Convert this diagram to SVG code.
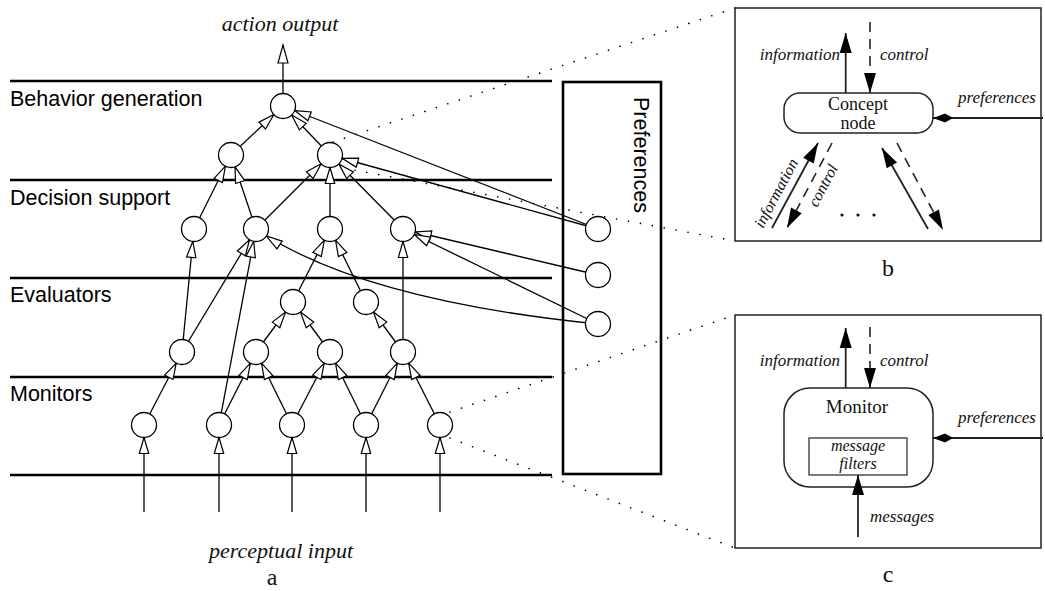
<svg xmlns="http://www.w3.org/2000/svg" width="1045" height="591" viewBox="0 0 1045 591">
<style>
.layer{stroke:#000;stroke-width:2.6;fill:none}
.edge{stroke:#000;stroke-width:1.3;fill:none}
.node{fill:#fff;stroke:#000;stroke-width:1.3}
.dot{stroke:#000;stroke-width:1.6;fill:none;stroke-dasharray:0.1 12;stroke-linecap:round}
.lbl{font-family:"Liberation Sans",Arial,sans-serif;font-size:21.5px;fill:#000}
.it{font-family:"Liberation Serif","Times New Roman",serif;font-style:italic;fill:#111}
.rm{font-family:"Liberation Serif","Times New Roman",serif;fill:#111}
.pan{fill:#fff;stroke:#222;stroke-width:1.5}
.sol{stroke:#222;stroke-width:1.8;fill:none}
.dsh{stroke:#222;stroke-width:1.6;fill:none;stroke-dasharray:10 7}
</style>
<defs>
<marker id="h" markerUnits="userSpaceOnUse" markerWidth="40" markerHeight="20" refX="28.5" refY="5" orient="auto" overflow="visible">
<path d="M0,0.3 L16,5 L0,9.7 z" fill="#fff" stroke="#000" stroke-width="1.2"/>
</marker>
<marker id="ht" markerUnits="userSpaceOnUse" markerWidth="20" markerHeight="20" refX="18" refY="5" orient="auto" overflow="visible">
<path d="M0,0 L18,5 L0,10 z" fill="#fff" stroke="#000" stroke-width="1.2"/>
</marker>
<marker id="f" markerUnits="userSpaceOnUse" markerWidth="24" markerHeight="16" refX="20" refY="6" orient="auto" overflow="visible">
<path d="M0,0 L20,6 L0,12 z" fill="#000"/>
</marker>
<marker id="dm" markerUnits="userSpaceOnUse" markerWidth="24" markerHeight="16" refX="20" refY="5" orient="auto" overflow="visible">
<path d="M20,5 L8,0.5 L0,5 L8,9.5 z" fill="#000"/>
</marker>
</defs>
<rect width="1045" height="591" fill="#fff"/>

<g id="layers">
<line class="layer" x1="10" y1="81" x2="552" y2="81"/>
<line class="layer" x1="10" y1="180" x2="552" y2="180"/>
<line class="layer" x1="10" y1="278" x2="552" y2="278"/>
<line class="layer" x1="10" y1="377" x2="552" y2="377"/>
<line class="layer" x1="10" y1="475" x2="552" y2="475"/>
<text class="lbl" x="10" y="106">Behavior generation</text>
<text class="lbl" x="10" y="205">Decision support</text>
<text class="lbl" x="10" y="302">Evaluators</text>
<text class="lbl" x="10" y="401">Monitors</text>
</g>

<g id="preferences-box">
<rect x="563" y="82" width="98" height="392" fill="none" stroke="#000" stroke-width="2.6"/>
<text class="lbl" transform="translate(634,97) rotate(90)">Preferences</text>
</g>

<g id="zoom-lines">
<line class="dot" x1="333" y1="142" x2="735" y2="8"/>
<line class="dot" x1="343" y1="168" x2="735" y2="241"/>
<line class="dot" x1="450" y1="412" x2="735" y2="315"/>
<line class="dot" x1="450" y1="438" x2="735" y2="548"/>
</g>

<g id="connectors">
<line class="edge" x1="283" y1="106" x2="283" y2="45" marker-end="url(#ht)"/>
<line class="edge" x1="231" y1="155" x2="283" y2="106" marker-end="url(#h)"/>
<line class="edge" x1="330" y1="155" x2="283" y2="106" marker-end="url(#h)"/>
<line class="edge" x1="598" y1="229" x2="283" y2="106" marker-end="url(#h)"/>
<line class="edge" x1="194" y1="229" x2="231" y2="155" marker-end="url(#h)"/>
<line class="edge" x1="256" y1="229" x2="231" y2="155" marker-end="url(#h)"/>
<line class="edge" x1="256" y1="229" x2="330" y2="155" marker-end="url(#h)"/>
<line class="edge" x1="330" y1="229" x2="330" y2="155" marker-end="url(#h)"/>
<line class="edge" x1="403" y1="229" x2="330" y2="155" marker-end="url(#h)"/>
<line class="edge" x1="598" y1="229" x2="330" y2="155" marker-end="url(#h)"/>
<line class="edge" x1="182" y1="352" x2="194" y2="229" marker-end="url(#h)"/>
<line class="edge" x1="182" y1="352" x2="256" y2="229" marker-end="url(#h)"/>
<line class="edge" x1="219" y1="425" x2="256" y2="229" marker-end="url(#h)"/>
<path class="edge" d="M598,324 Q360,300 256,229" marker-end="url(#h)"/>
<line class="edge" x1="293" y1="302" x2="330" y2="229" marker-end="url(#h)"/>
<line class="edge" x1="366" y1="302" x2="330" y2="229" marker-end="url(#h)"/>
<line class="edge" x1="403" y1="352" x2="403" y2="229" marker-end="url(#h)"/>
<line class="edge" x1="598" y1="275" x2="403" y2="229" marker-end="url(#h)"/>
<line class="edge" x1="598" y1="324" x2="403" y2="229" marker-end="url(#h)"/>
<line class="edge" x1="256" y1="352" x2="293" y2="302" marker-end="url(#h)"/>
<line class="edge" x1="330" y1="352" x2="293" y2="302" marker-end="url(#h)"/>
<line class="edge" x1="403" y1="352" x2="366" y2="302" marker-end="url(#h)"/>
<line class="edge" x1="144" y1="425" x2="182" y2="352" marker-end="url(#h)"/>
<line class="edge" x1="219" y1="425" x2="256" y2="352" marker-end="url(#h)"/>
<line class="edge" x1="292" y1="425" x2="256" y2="352" marker-end="url(#h)"/>
<line class="edge" x1="292" y1="425" x2="330" y2="352" marker-end="url(#h)"/>
<line class="edge" x1="366" y1="425" x2="330" y2="352" marker-end="url(#h)"/>
<line class="edge" x1="366" y1="425" x2="403" y2="352" marker-end="url(#h)"/>
<line class="edge" x1="440" y1="425" x2="403" y2="352" marker-end="url(#h)"/>
<line class="edge" x1="144" y1="512" x2="144" y2="425" marker-end="url(#h)"/>
<line class="edge" x1="219" y1="512" x2="219" y2="425" marker-end="url(#h)"/>
<line class="edge" x1="292" y1="512" x2="292" y2="425" marker-end="url(#h)"/>
<line class="edge" x1="366" y1="512" x2="366" y2="425" marker-end="url(#h)"/>
<line class="edge" x1="440" y1="512" x2="440" y2="425" marker-end="url(#h)"/>
</g>

<g id="nodes">
<circle id="B1" class="node" cx="283" cy="106" r="12.5"/>
<circle id="D1" class="node" cx="231" cy="155" r="12.5"/>
<circle id="D2" class="node" cx="330" cy="155" r="12.5"/>
<circle id="D3" class="node" cx="194" cy="229" r="12.5"/>
<circle id="D4" class="node" cx="256" cy="229" r="12.5"/>
<circle id="D5" class="node" cx="330" cy="229" r="12.5"/>
<circle id="D6" class="node" cx="403" cy="229" r="12.5"/>
<circle id="E1" class="node" cx="293" cy="302" r="12.5"/>
<circle id="E2" class="node" cx="366" cy="302" r="12.5"/>
<circle id="E3" class="node" cx="182" cy="352" r="12.5"/>
<circle id="E4" class="node" cx="256" cy="352" r="12.5"/>
<circle id="E5" class="node" cx="330" cy="352" r="12.5"/>
<circle id="E6" class="node" cx="403" cy="352" r="12.5"/>
<circle id="M1" class="node" cx="144" cy="425" r="12.5"/>
<circle id="M2" class="node" cx="219" cy="425" r="12.5"/>
<circle id="M3" class="node" cx="292" cy="425" r="12.5"/>
<circle id="M4" class="node" cx="366" cy="425" r="12.5"/>
<circle id="M5" class="node" cx="440" cy="425" r="12.5"/>
<circle id="P1" class="node" cx="598" cy="229" r="12.5"/>
<circle id="P2" class="node" cx="598" cy="275" r="12.5"/>
<circle id="P3" class="node" cx="598" cy="324" r="12.5"/>
</g>

<g id="io-labels">
<text class="it" x="280" y="31" font-size="22" text-anchor="middle">action output</text>
<text class="it" x="281" y="558" font-size="22" text-anchor="middle">perceptual input</text>
<text class="rm" x="272" y="585" font-size="24" text-anchor="middle">a</text>
<text class="rm" x="888" y="276" font-size="24" text-anchor="middle">b</text>
<text class="rm" x="888" y="582" font-size="24" text-anchor="middle">c</text>
</g>

<g id="panel-b">
<rect class="pan" x="735" y="8" width="306" height="233"/>
<g id="concept-node">
<rect class="pan" x="784" y="93" width="149" height="40" rx="16"/>
<text class="rm" x="858" y="110" font-size="18" text-anchor="middle">Concept</text>
<text class="rm" x="858" y="129" font-size="18" text-anchor="middle">node</text>
</g>
<line class="sol" x1="845.7" y1="93" x2="845.7" y2="33" marker-end="url(#f)"/>
<line class="dsh" x1="870" y1="22" x2="870" y2="93" marker-end="url(#f)"/>
<text class="it" x="840" y="60" font-size="17" text-anchor="end">information</text>
<text class="it" x="880" y="60" font-size="17">control</text>
<line class="sol" x1="1043" y1="118" x2="933" y2="118" marker-end="url(#dm)"/>
<text class="it" x="1036" y="103" font-size="17" text-anchor="end">preferences</text>
<line class="sol" x1="772" y1="228" x2="818" y2="143" marker-end="url(#f)"/>
<line class="dsh" x1="832" y1="143" x2="787" y2="228" marker-end="url(#f)"/>
<line class="sol" x1="928" y1="229" x2="882" y2="148" marker-end="url(#f)"/>
<line class="dsh" x1="897" y1="143" x2="943" y2="230" marker-end="url(#f)"/>
<text class="it" font-size="16" transform="translate(763,229) rotate(-62)">information</text>
<text class="it" font-size="16" transform="translate(817,208) rotate(-62)">control</text>
<circle cx="842" cy="215" r="1.6" fill="#111"/>
<circle cx="858" cy="215" r="1.6" fill="#111"/>
<circle cx="874" cy="215" r="1.6" fill="#111"/>
</g>

<g id="panel-c">
<rect class="pan" x="735" y="315" width="306" height="233"/>
<g id="monitor-node">
<rect class="pan" x="784" y="388" width="149" height="99" rx="26"/>
<text class="rm" x="857" y="413" font-size="19" text-anchor="middle">Monitor</text>
<rect x="809" y="438" width="98" height="37" fill="#fff" stroke="#222" stroke-width="1.2"/>
<text class="it" x="858" y="451" font-size="16" text-anchor="middle">message</text>
<text class="it" x="858" y="469" font-size="16" text-anchor="middle">filters</text>
</g>
<line class="sol" x1="845.7" y1="388" x2="845.7" y2="328" marker-end="url(#f)"/>
<line class="dsh" x1="870" y1="327" x2="870" y2="388" marker-end="url(#f)"/>
<text class="it" x="840" y="366" font-size="17" text-anchor="end">information</text>
<text class="it" x="880" y="366" font-size="17">control</text>
<line class="sol" x1="1043" y1="438" x2="933" y2="438" marker-end="url(#dm)"/>
<text class="it" x="1036" y="423" font-size="17" text-anchor="end">preferences</text>
<line class="sol" x1="858" y1="537" x2="858" y2="475" marker-end="url(#f)"/>
<text class="it" x="870" y="522" font-size="17">messages</text>
</g>
</svg>
